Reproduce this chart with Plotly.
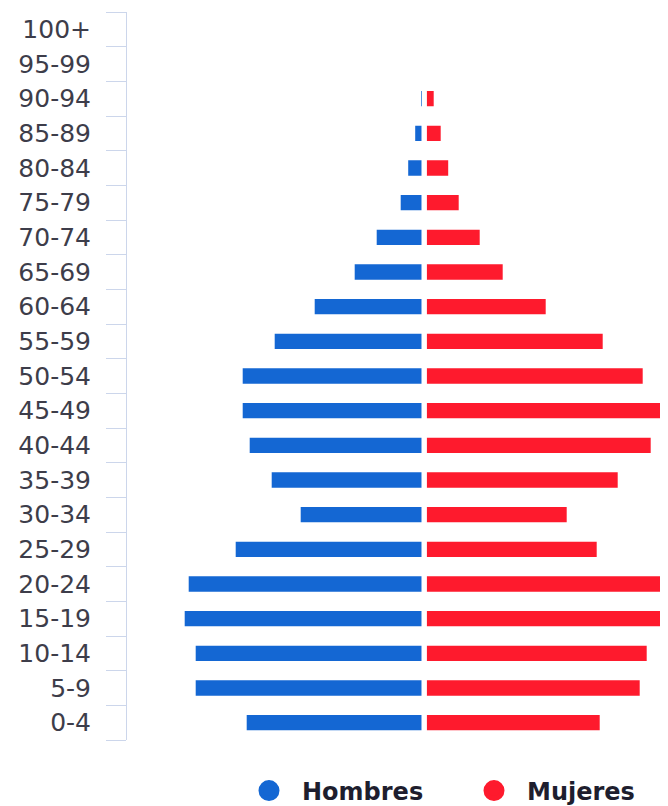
import plotly.graph_objects as go

# Age groups, bottom to top
ages = ["0-4", "5-9", "10-14", "15-19", "20-24", "25-29", "30-34", "35-39",
        "40-44", "45-49", "50-54", "55-59", "60-64", "65-69", "70-74",
        "75-79", "80-84", "85-89", "90-94", "95-99", "100+"]

# Values (arbitrary units, same scale both sides)
hombres = [175, 226, 226, 237, 233, 186, 121, 150, 172, 179, 179, 147,
           107, 67, 45, 21, 13.5, 6.5, 0.5, 0, 0]
mujeres = [173, 213, 220, 235, 245, 170, 140, 191, 224, 234, 216, 176,
           119, 76, 53, 32, 21.5, 14, 7, 0, 0]

BLUE = "#1467d3"
RED = "#fe1a2d"
AXIS = "#ccd6eb"

fig = go.Figure()
fig.add_trace(go.Bar(y=ages, x=hombres, orientation="h", name="Hombres",
                     marker=dict(color=BLUE, line=dict(width=0)),
                     xaxis="x", yaxis="y", showlegend=False))
fig.add_trace(go.Bar(y=ages, x=mujeres, orientation="h", name="Mujeres",
                     marker=dict(color=RED, line=dict(width=0)),
                     xaxis="x2", yaxis="y", showlegend=False))
# legend entries with round markers (no visible data, carry categories for y2)
for nm, col, lg in (("Hombres", BLUE, "legend"), ("Mujeres", RED, "legend2")):
    fig.add_trace(go.Scatter(x=[None] * len(ages), y=ages, mode="markers",
                             name=nm, legend=lg,
                             marker=dict(symbol="circle", size=16, color=col,
                                         line=dict(color=col, width=5)),
                             xaxis="x2", yaxis="y2", showlegend=True,
                             hoverinfo="skip"))

# The page body adds an 8px offset; the figure is sized to fit the window.
W, H = 660, 798
ML, MT, MB = 119, 4, 66
plot_w = W - ML
plot_h = H - MT - MB
yr = [-0.5, len(ages) - 0.5]
leg_font = dict(family="DejaVu Sans", size=24, color="#1e1e2e", weight="bold")
fig.update_layout(
    width=W, height=H,
    margin=dict(l=ML, r=0, t=MT, b=MB, pad=0, autoexpand=False),
    paper_bgcolor="white", plot_bgcolor="white",
    barmode="overlay", bargap=0.56,
    xaxis=dict(domain=[0, 294.7 / plot_w], range=[294.7, 0], visible=False,
               showgrid=False, zeroline=False),
    xaxis2=dict(domain=[299.7 / plot_w, 1], range=[0, 241.3], visible=False,
                showgrid=False, zeroline=False, anchor="y"),
    # axis line + boundary tick marks
    yaxis=dict(type="category", categoryorder="array", categoryarray=ages,
               range=yr, autorange=False,
               showgrid=False, zeroline=False, showline=True,
               linecolor=AXIS, linewidth=1,
               ticks="outside", ticklen=20, tickcolor=AXIS, tickwidth=1,
               tickson="boundaries", showticklabels=False, automargin=False),
    # category labels
    yaxis2=dict(type="category", categoryorder="array", categoryarray=ages,
                range=yr, autorange=False,
                overlaying="y", side="left", anchor="x",
                showgrid=False, zeroline=False, showline=False,
                ticks="outside", ticklen=30, tickcolor="rgba(0,0,0,0)",
                automargin=False,
                tickfont=dict(family="DejaVu Sans", size=25, color="#3d3d4a")),
    legend=dict(orientation="h", x=109 / 541, xanchor="left",
                y=-51 / 728, yanchor="middle", itemwidth=56,
                font=leg_font, bgcolor="rgba(0,0,0,0)"),
    legend2=dict(orientation="h", x=334 / 541, xanchor="left",
                 y=-51 / 728, yanchor="middle", itemwidth=56,
                 font=leg_font, bgcolor="rgba(0,0,0,0)"),
    showlegend=True,
)

fig.write_html("out.html")
